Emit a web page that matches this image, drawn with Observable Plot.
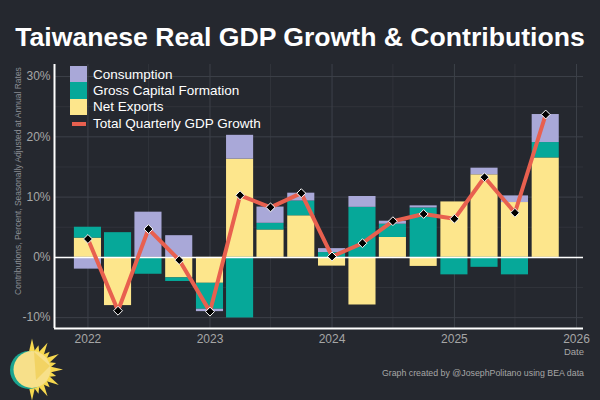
<!DOCTYPE html>
<html>
<head>
<meta charset="utf-8">
<script src="https://cdn.jsdelivr.net/npm/d3@7"></script>
<script src="https://cdn.jsdelivr.net/npm/@observablehq/plot@0.6"></script>
<style>
  html, body { margin: 0; padding: 0; background: #25282f; }
  #wrap { position: relative; width: 600px; height: 400px; overflow: hidden; background: #25282f; font-family: "Liberation Sans", Arial, sans-serif; }
  #title { position: absolute; left: 0; top: 22px; width: 600px; text-align: center; color: #ffffff; font-weight: bold; font-size: 26.6px; }
  #chart { position: absolute; left: 0; top: 64px; }
  #ylab { position: absolute; left: 18px; top: 181px; transform: translate(-50%, -50%) rotate(-90deg); white-space: nowrap; color: #8a8d93; font-size: 8.5px; }
  #legend { position: absolute; left: 70px; top: 66px; }
  .li { position: relative; height: 16.4px; }
  .sw { position: absolute; left: 0; top: 0; width: 17px; height: 16.4px; }
  .lt { position: absolute; left: 23px; top: -0.5px; color: #ffffff; font-size: 13.5px; line-height: 18px; white-space: nowrap; }
  #datelab { position: absolute; right: 16px; top: 346px; color: #a6a6a6; font-size: 9.5px; }
  #caption { position: absolute; right: 16px; top: 368px; color: #a6a6a6; font-size: 8.8px; }
  #sun { position: absolute; left: 0; top: 330px; }
</style>
</head>
<body>
<div id="wrap">
  <div id="title">Taiwanese Real GDP Growth &amp; Contributions</div>
  <div id="chart"></div>
  <div id="ylab">Contributions, Percent, Seasonally Adjusted at Annual Rates</div>
  <div id="legend"></div>
  <div id="datelab">Date</div>
  <div id="caption">Graph created by @JosephPolitano using BEA data</div>
  <svg id="sun" width="70" height="70" viewBox="0 0 70 70">
    <g id="rays" fill="#f6d84f"></g>
    <circle cx="29" cy="40" r="19" fill="#1aa38f"/>
    <circle cx="32" cy="39.5" r="18.5" fill="#f7e08a"/>
    <polygon points="34,22 50,36 36,50" fill="#f0cf55" opacity="0.75"/>
  </svg>
</div>
<script>
// ---- data ----
const quarters = ["2022-01-01","2022-04-01","2022-07-01","2022-10-01",
                  "2023-01-01","2023-04-01","2023-07-01","2023-10-01",
                  "2024-01-01","2024-04-01","2024-07-01","2024-10-01",
                  "2025-01-01","2025-04-01","2025-07-01","2025-10-01"];
const netExports  = [3.2, -8.0, 0.0, -3.4, -4.3, 16.3, 4.55, 6.9, -1.45, -7.9, 3.3, -1.5, 9.2, 13.7, 9.1, 16.5];
const capitalForm = [1.8, 4.1, -2.8, -0.6, -4.3, -10.05, 1.1, 2.45, 0.8, 8.3, 2.2, 8.2, -2.9, -1.65, -2.9, 2.55];
const consumption = [-1.95, 0.0, 7.5, 3.6, -0.4, 3.95, 2.7, 1.3, 0.65, 1.8, 0.5, 0.35, 0.0, 1.1, 1.1, 4.65];
const totalGrowth = [3.05, -8.85, 4.7, -0.45, -9.0, 10.3, 8.3, 10.65, 0.15, 2.35, 6.0, 7.2, 6.4, 13.3, 7.4, 23.7];

const seriesNames = ["Net Exports", "Gross Capital Formation", "Consumption"];
const seriesColors = ["#fde68c", "#06a899", "#a9a8d8"];
const lineColor = "#e8604f";

const yTicks = [-10, 0, 10, 20, 30];
const yMinor = [-5, 5, 15, 25];
const xTickLabels = ["2022-01-01","2023-01-01","2024-01-01","2025-01-01","2026-01-01"];
const xMinorLabels = ["2022-07-01","2023-07-01","2024-07-01","2025-07-01"];

// ---- build tables ----
const seriesValues = [netExports, capitalForm, consumption];
const rows = quarters.flatMap((q, i) => {
  const d = new Date(q);
  const x1 = d3.utcDay.offset(d, -45), x2 = d3.utcDay.offset(d, 45);
  return seriesNames.map((s, k) => ({x1, x2, series: s, value: seriesValues[k][i]}));
});
const totals = quarters.map((q, i) => ({date: new Date(q), value: totalGrowth[i]}));
const xTicks = xTickLabels.map(s => new Date(s));
const xMinor = xMinorLabels.map(s => new Date(s));

const yMin = -11.8, yMax = 32;
const xMin = new Date("2021-09-23"), xMax = new Date("2026-01-22");

const chart = Plot.plot({
  width: 600,
  height: 336,
  marginTop: 0,
  marginLeft: 54,
  marginRight: 17,
  marginBottom: 72,
  style: {background: "transparent", color: "#a6a6a6", fontFamily: "'Liberation Sans', Arial, sans-serif", fontSize: "12px"},
  x: {type: "utc", domain: [xMin, xMax], ticks: xTicks, tickFormat: "%Y", tickSize: 0, tickPadding: 6, label: null},
  y: {domain: [yMin, yMax], ticks: yTicks, tickFormat: d => d + "%", tickSize: 0, tickPadding: 4, label: null},
  color: {domain: seriesNames, range: seriesColors},
  marks: [
    Plot.ruleY(yMinor, {stroke: "#33363e", strokeWidth: 0.8}),
    Plot.ruleX(xMinor, {stroke: "#33363e", strokeWidth: 0.8}),
    Plot.ruleY(yTicks, {stroke: "#3d4149", strokeWidth: 1}),
    Plot.ruleX(xTicks, {stroke: "#3d4149", strokeWidth: 1}),
    Plot.rectY(rows, Plot.stackY({x1: "x1", x2: "x2", y: "value", fill: "series", insetLeft: 1.5, insetRight: 1.5})),
    Plot.ruleY([0], {stroke: "#ffffff", strokeWidth: 1.5}),
    Plot.ruleY([yMin], {stroke: "#ffffff", strokeWidth: 2}),
    Plot.ruleX([xMin], {stroke: "#ffffff", strokeWidth: 2}),
    Plot.lineY(totals, {x: "date", y: "value", stroke: lineColor, strokeWidth: 4}),
    Plot.dot(totals, {x: "date", y: "value", symbol: "diamond2", r: 4, fill: "#000000", stroke: "#ffffff", strokeWidth: 1})
  ]
});
document.getElementById("chart").appendChild(chart);

// ---- legend ----
const legend = document.getElementById("legend");
const legendItems = [["Consumption", "#a9a8d8"], ["Gross Capital Formation", "#06a899"], ["Net Exports", "#fde68c"]];
legendItems.forEach(([name, color]) => {
  const li = document.createElement("div"); li.className = "li";
  li.innerHTML = `<div class="sw" style="background:${color}"></div><div class="lt">${name}</div>`;
  legend.appendChild(li);
});
const lineItem = document.createElement("div"); lineItem.className = "li";
lineItem.innerHTML = `<div class="sw" style="background:transparent"><div style="position:absolute;left:2px;right:1px;top:6.5px;height:4px;background:${lineColor}"></div></div><div class="lt">Total Quarterly GDP Growth</div>`;
legend.appendChild(lineItem);

// ---- decorative sun rays (logo) ----
const rayAngles = [-90, -75, -60, -45, -30, -15, 0, 15, 30, 45, 60, 75, 90];
const raysG = document.getElementById("rays");
rayAngles.forEach((a, i) => {
  const t = a * Math.PI / 180, cx = 32, cy = 39.5;
  const len = (i % 2 === 0) ? 31 : 25, w = 3.2;
  const px = cx + len * Math.cos(t), py = cy + len * Math.sin(t);
  const bx = 17 * Math.cos(t), by = 17 * Math.sin(t);
  const nx = -Math.sin(t) * w, ny = Math.cos(t) * w;
  const p = document.createElementNS("http://www.w3.org/2000/svg", "polygon");
  p.setAttribute("points", `${cx+bx+nx},${cy+by+ny} ${px},${py} ${cx+bx-nx},${cy+by-ny}`);
  raysG.appendChild(p);
});
</script>
</body>
</html>
